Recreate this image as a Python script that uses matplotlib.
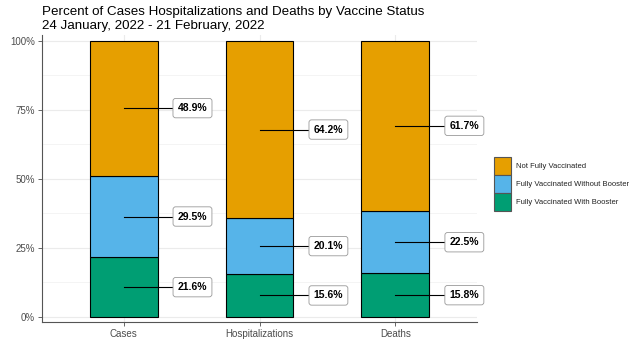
import numpy as np
import matplotlib
matplotlib.use("Agg")
from matplotlib import pyplot as plt
from matplotlib.ticker import MultipleLocator, FuncFormatter
from matplotlib.patches import Patch

categories = ["Cases", "Hospitalizations", "Deaths"]
statuses = ["Not Fully Vaccinated", "Fully Vaccinated Without Booster", "Fully Vaccinated With Booster"]
with_booster = [21.6, 15.6, 15.8]
without_booster = [29.5, 20.1, 22.5]
not_fully = [48.9, 64.2, 61.7]

status_color_map = {
    "Not Fully Vaccinated": "#E69F00",
    "Fully Vaccinated Without Booster": "#56B4E9",
    "Fully Vaccinated With Booster": "#009E73",
}

plt.rcParams["font.family"] = ["Liberation Sans", "DejaVu Sans"]

fig = plt.figure(figsize=(6.39, 3.52), dpi=100)
ax = fig.add_axes([42 / 639, 1 - 322 / 352, (477 - 42) / 639, (322 - 35) / 352])

x = np.arange(1, len(categories) + 1)
stack = [
    ("Fully Vaccinated With Booster", np.array(with_booster) / 100),
    ("Fully Vaccinated Without Booster", np.array(without_booster) / 100),
    ("Not Fully Vaccinated", np.array(not_fully) / 100),
]
bottom = np.zeros(len(categories))
for name, vals in stack:
    ax.bar(x, vals, 0.5, bottom=bottom, color=status_color_map[name],
           edgecolor="black", linewidth=0.8, zorder=3)
    for xi, b, v in zip(x, bottom, vals):
        ym = b + v / 2
        lx = xi + 0.507
        ax.plot([xi, lx - 0.14], [ym, ym], color="black", lw=0.8, zorder=4)
        ax.text(lx, ym, f"{v * 100:.1f}%", ha="center", va="center", fontsize=7.5,
                fontweight="bold", zorder=5,
                bbox=dict(boxstyle="round,pad=0.45,rounding_size=0.25", fc="white",
                          ec="#999999", lw=0.6))
    bottom = bottom + vals

ax.set_xlim(0.4, 3.6)
ax.set_ylim(-0.018, 1.02)
ax.set_xticks(x)
ax.set_xticklabels(categories)
ax.yaxis.set_major_locator(MultipleLocator(0.25))
ax.yaxis.set_minor_locator(MultipleLocator(0.125))
ax.yaxis.set_major_formatter(FuncFormatter(lambda v, p: f"{v * 100:.0f}%"))
ax.grid(True, which="major", color="#ebebeb", lw=0.8, zorder=0)
ax.grid(True, which="minor", axis="y", color="#f3f3f3", lw=0.6, zorder=0)
ax.tick_params(axis="both", which="major", labelsize=7, colors="#4d4d4d",
               length=3, width=0.6, pad=2)
ax.tick_params(axis="y", which="minor", length=0)
for side in ["top", "right"]:
    ax.spines[side].set_visible(False)
for side in ["left", "bottom"]:
    ax.spines[side].set_color("#555555")
    ax.spines[side].set_linewidth(0.8)

fig.text(42 / 639, 1 - 12 / 352, "Percent of Cases Hospitalizations and Deaths by Vaccine Status",
         fontsize=9.6, va="center", ha="left")
fig.text(42 / 639, 1 - 26 / 352, "24 January, 2022 - 21 February, 2022",
         fontsize=9.6, va="center", ha="left")

# legend keys as proxy patches, ggplot style (stacked, touching)
proxies = [Patch(facecolor=status_color_map[s], edgecolor="#555555", lw=0.8) for s in statuses]
leg = fig.legend(proxies, statuses, loc="center left",
                 bbox_to_anchor=(494 / 639, 1 - 184 / 352), frameon=False,
                 borderpad=0, borderaxespad=0,
                 fontsize=5.5, handlelength=2.2, handleheight=3.3,
                 labelspacing=0.0, handletextpad=0.7)
for t in leg.get_texts():
    t.set_color("#222222")

fig.savefig("out.png", dpi=100)
